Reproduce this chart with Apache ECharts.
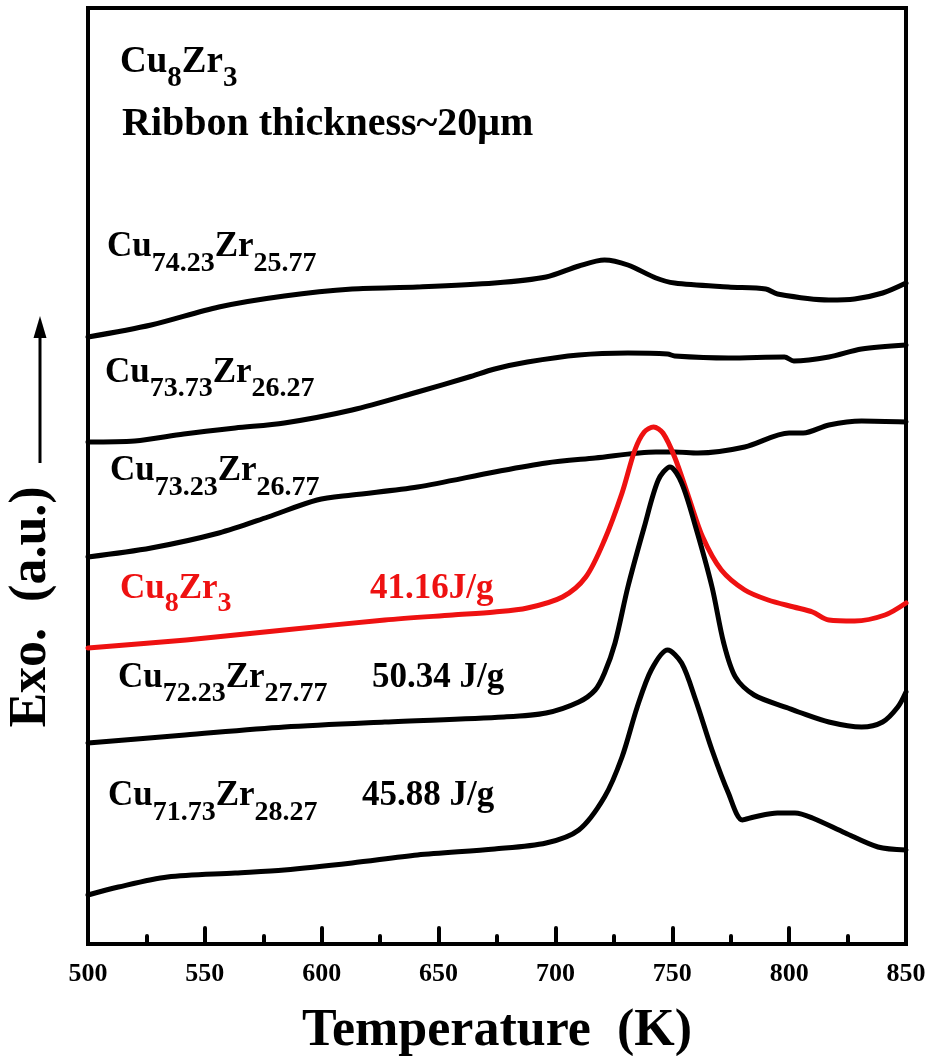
<!DOCTYPE html>
<html>
<head>
<meta charset="utf-8">
<script src="https://cdn.jsdelivr.net/npm/echarts@6.0.0/dist/echarts.min.js"></script>
<style>
  html, body { margin: 0; padding: 0; background: #fff; }
  #chart { width: 932px; height: 1056px; }
</style>
</head>
<body>
<div id="chart"></div>
<script>
// DSC traces of Cu-Zr ribbons, heat flow in arbitrary (offset) units
const xTicks = [500, 550, 600, 650, 700, 750, 800, 850];

const cu7423T = [500, 527, 556, 584, 613, 641, 674, 696, 710, 721, 731, 743, 751, 774, 790, 795, 817, 828, 840, 850];
const cu7423Y = [607, 619, 637, 648, 655, 657, 661, 667, 678, 684, 679, 666, 661, 657, 655, 650, 644, 645, 651, 661];

const cu7373T = [500, 520, 541, 563, 584, 613, 641, 663, 674, 688, 710, 731, 748, 751, 774, 798, 802, 817, 831, 850];
const cu7373Y = [502, 503, 510, 516, 521, 534, 552, 567, 575, 582, 589, 591, 590, 588, 586, 587, 583, 587, 595, 599];

const cu7323T = [500, 527, 556, 577, 598, 613, 641, 674, 696, 717, 743, 751, 761, 781, 800, 806, 817, 831, 850];
const cu7323Y = [387, 396, 411, 427, 444, 449, 457, 472, 481, 486, 492, 492, 491, 497, 511, 511, 519, 523, 522];

const cu8zr3T = [500, 542, 584, 627, 656, 674, 688, 703, 713, 721, 728.5, 734, 738, 742, 746, 751, 757, 763, 771, 781, 791, 802, 810, 817, 828, 841, 850];
const cu8zr3Y = [296, 304, 314, 324, 329, 332, 336, 347, 367, 404, 451, 494, 512, 517, 511, 487, 447, 407, 374, 354, 344, 337, 332, 324, 323, 329, 341];

const cu7223T = [500, 541.5, 584, 627, 678, 696, 710, 717, 721, 725.5, 731, 738, 744, 749, 754, 760, 767, 772, 777, 785, 799.5, 804, 817, 831, 840, 846.5, 850];
const cu7223Y = [201, 209, 217, 222, 227, 231, 242, 254, 271, 301, 357, 417, 464, 477, 461, 417, 357, 301, 267, 249, 236, 232, 222, 217, 222, 237, 252];

const cu7173T = [500, 513, 534, 563, 584, 613, 641, 674, 696, 710, 721, 728.5, 735, 741, 748, 754, 760, 767, 774, 780, 785, 795, 802.5, 810, 824, 838, 850];
const cu7173Y = [49, 57, 67, 71, 74, 81, 89, 95, 101, 114, 147, 187, 237, 274, 294, 281, 244, 194, 151, 124, 127, 131, 131, 126, 111, 97, 94];

const FONT = '"Liberation Serif", "Times New Roman", serif';
const RED = '#ee1111';

function pairs(t, y) { return t.map((v, i) => [v, y[i]]); }

function trace(name, t, y, color) {
  return {
    name, type: 'line', data: pairs(t, y),
    showSymbol: false, smooth: 0.3, silent: true,
    lineStyle: { color, width: 5, cap: 'round', join: 'round' }
  };
}

// chemical formula with subscripts, placed by its left edge and baseline
function formula(x, baseline, parts, color, size, subSize, drop) {
  const pad = 2 * (drop + 0.3375 * (size - subSize));
  const rich = {
    m: { fontSize: size, fontWeight: 'bold', fontFamily: FONT, fill: color },
    s: { fontSize: subSize, fontWeight: 'bold', fontFamily: FONT, fill: color, padding: [pad, 0, 0, 0] }
  };
  const text = parts.map(p => '{' + (p[1] ? 's' : 'm') + '|' + p[0] + '}').join('');
  return {
    type: 'text', x, y: baseline - 0.3375 * size, silent: true,
    style: { text, rich, align: 'left', verticalAlign: 'middle' }
  };
}

function plain(x, baseline, text, color, size) {
  return {
    type: 'text', x, y: baseline - 0.3375 * size, silent: true,
    style: { text, fill: color, fontSize: size, fontWeight: 'bold', fontFamily: FONT, align: 'left', verticalAlign: 'middle' }
  };
}

const chart = echarts.init(document.getElementById('chart'), null, { renderer: 'canvas' });

const option = {
  animation: false,
  backgroundColor: '#fff',
  grid: {
    left: 88, right: 26, top: 8, bottom: 112, outerBoundsMode: 'none', containLabel: false,
    show: true, borderColor: '#000', borderWidth: 4, backgroundColor: 'transparent'
  },
  xAxis: {
    type: 'value', min: xTicks[0], max: xTicks[xTicks.length - 1], interval: 50,
    name: 'Temperature  (K)', nameLocation: 'middle', nameGap: 62,
    nameTextStyle: { fontFamily: FONT, fontWeight: 'bold', fontSize: 52, color: '#000' },
    axisLine: { show: true, lineStyle: { color: '#000', width: 4 } },
    axisTick: { show: true, inside: true, length: 16, lineStyle: { color: '#000', width: 4, cap: 'round' } },
    minorTick: { show: true, splitNumber: 2, length: 8, lineStyle: { color: '#000', width: 4, cap: 'round' } },
    axisLabel: { fontFamily: FONT, fontWeight: 'bold', fontSize: 26, color: '#000', margin: 17 },
    splitLine: { show: false }
  },
  yAxis: {
    type: 'value', min: 0, max: 936,
    axisLine: { show: false }, axisTick: { show: false }, axisLabel: { show: false }, splitLine: { show: false }
  },
  series: [
    trace('Cu74.23Zr25.77', cu7423T, cu7423Y, '#000'),
    trace('Cu73.73Zr26.27', cu7373T, cu7373Y, '#000'),
    trace('Cu73.23Zr26.77', cu7323T, cu7323Y, '#000'),
    trace('Cu8Zr3', cu8zr3T, cu8zr3Y, RED),
    trace('Cu72.23Zr27.77', cu7223T, cu7223Y, '#000'),
    trace('Cu71.73Zr28.27', cu7173T, cu7173Y, '#000')
  ],
  graphic: [
    // y-axis title and the exotherm arrow
    {
      type: 'text', x: 32, y: 607, rotation: Math.PI / 2, silent: true,
      style: { text: 'Exo.  (a.u.)', fill: '#000', fontSize: 52, fontWeight: 'bold', fontFamily: FONT, align: 'center', verticalAlign: 'middle' }
    },
    { type: 'line', silent: true, shape: { x1: 40, y1: 463, x2: 40, y2: 332 }, style: { stroke: '#000', lineWidth: 3 } },
    { type: 'polygon', silent: true, shape: { points: [[40, 316], [33.5, 338], [46.5, 338]] }, style: { fill: '#000' } },

    // sample description
    formula(120, 75, [['Cu'], ['8', 1], ['Zr'], ['3', 1]], '#000', 37, 29, 13),
    plain(122, 138, 'Ribbon thickness~20\u03bcm', '#000', 40),

    // trace labels
    formula(107, 259, [['Cu'], ['74.23', 1], ['Zr'], ['25.77', 1]], '#000', 35, 28, 14),
    formula(105, 385, [['Cu'], ['73.73', 1], ['Zr'], ['26.27', 1]], '#000', 35, 28, 13),
    formula(110, 483, [['Cu'], ['73.23', 1], ['Zr'], ['26.77', 1]], '#000', 35, 28, 14),
    formula(120, 601, [['Cu'], ['8', 1], ['Zr'], ['3', 1]], RED, 35, 28, 12),
    plain(370, 601, '41.16J/g', RED, 35),
    formula(118, 690, [['Cu'], ['72.23', 1], ['Zr'], ['27.77', 1]], '#000', 35, 28, 13),
    plain(372, 690, '50.34 J/g', '#000', 35),
    formula(108, 808, [['Cu'], ['71.73', 1], ['Zr'], ['28.27', 1]], '#000', 35, 28, 14),
    plain(362, 808, '45.88 J/g', '#000', 35)
  ]
};

chart.setOption(option);
</script>
</body>
</html>
